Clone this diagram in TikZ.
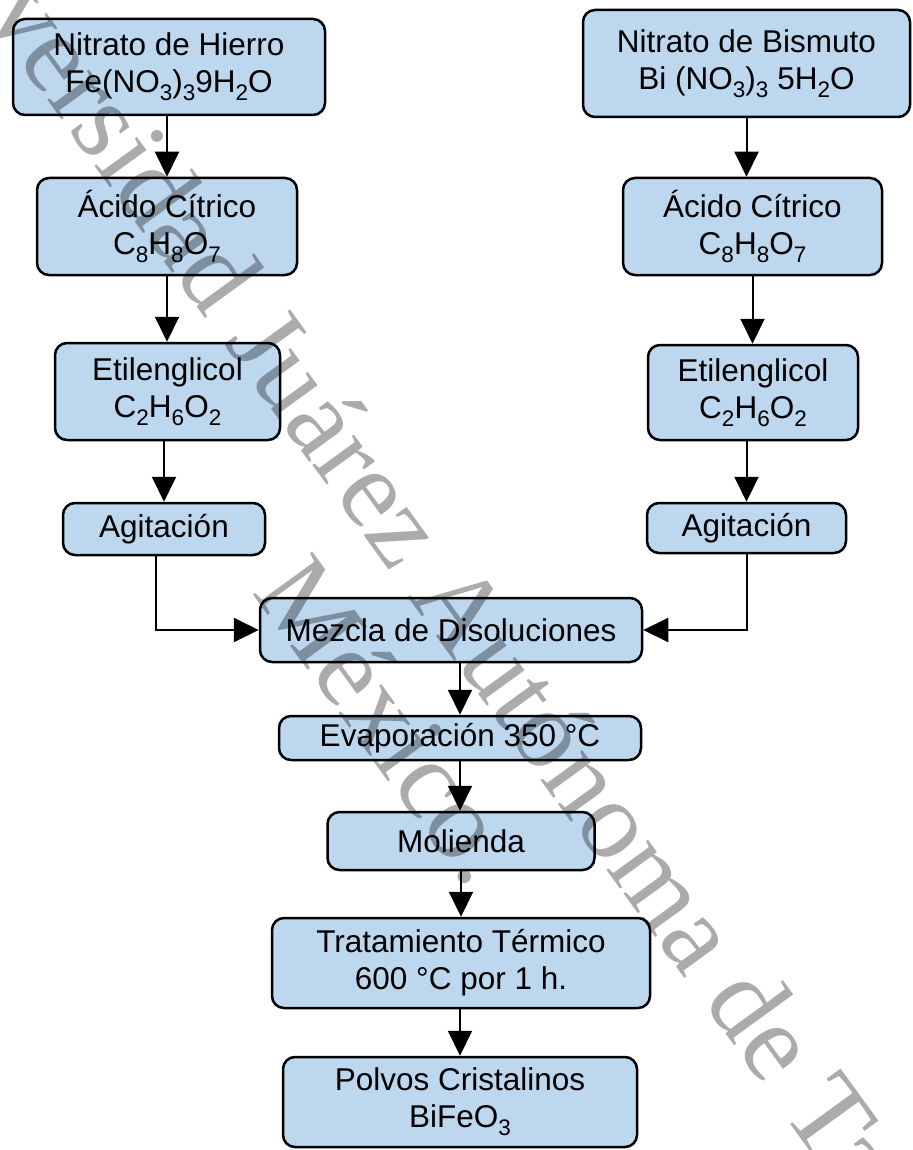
\documentclass[tikz,border=0pt]{standalone}
\usepackage{fontspec}
\setmainfont{Liberation Sans}
\newfontfamily\wmfont{Liberation Serif}
\usetikzlibrary{arrows.meta,calc}
\definecolor{boxblue}{RGB}{189,215,238}
\newcommand\chs[1]{\raisebox{-8pt}{\fontsize{22.5}{22.5}\selectfont #1}}
\tikzset{
  procbox/.style={draw=black, line width=2.5pt, fill=boxblue, rounded corners=12pt,
    inner sep=0pt, align=center, font=\fontsize{31.5}{37}\selectfont},
  arr/.style={line width=2pt, -{Triangle[width=24pt,length=25pt]}},
  wm/.style={text=black, text opacity=0.33, font=\wmfont\fontsize{112}{112}\selectfont,
    rotate=-54, inner sep=0pt, anchor=base west}
}
\begin{document}
\begin{tikzpicture}[x=1pt,y=-1pt]
\useasboundingbox (0,0) rectangle (912,1150);
\fill[white] (0,0) rectangle (912,1150);
% left column
\node[procbox, minimum width=312pt, minimum height=96pt] (fe) at (169,67) {Nitrato de Hierro\\Fe(NO\chs{3})\chs{3}9H\chs{2}O};
\node[procbox, minimum width=260pt, minimum height=97pt] (ac1) at (167,226.5) {Ácido Cítrico\\C\chs{8}H\chs{8}O\chs{7}};
\node[procbox, minimum width=225pt, minimum height=97pt] (et1) at (167.5,391.5) {Etilenglicol\\C\chs{2}H\chs{6}O\chs{2}};
\node[procbox, minimum width=202pt, minimum height=52pt] (agL) at (164,529) {Agitación};
% right column
\node[procbox, minimum width=327pt, minimum height=107pt] (bi) at (746.5,63.5) {Nitrato de Bismuto\\Bi (NO\chs{3})\chs{3} 5H\chs{2}O};
\node[procbox, minimum width=259pt, minimum height=97pt] (ac2) at (752.5,226.5) {Ácido Cítrico\\C\chs{8}H\chs{8}O\chs{7}};
\node[procbox, minimum width=210pt, minimum height=95pt] (et2) at (753,392.5) {Etilenglicol\\C\chs{2}H\chs{6}O\chs{2}};
\node[procbox, minimum width=199pt, minimum height=50pt] (agR) at (746.5,528) {Agitación};
% center column
\node[procbox, minimum width=382pt, minimum height=64pt] (mez) at (451,630) {Mezcla de Disoluciones};
\node[procbox, minimum width=362pt, minimum height=44pt] (ev) at (460,738) {Evaporación 350 °C};
\node[procbox, minimum width=267pt, minimum height=58pt] (mo) at (461,841) {Molienda};
\node[procbox, minimum width=378pt, minimum height=90pt] (tr) at (461,963) {Tratamiento Térmico\\600 °C por 1 h.};
\node[procbox, minimum width=354pt, minimum height=90pt] (po) at (460,1102) {Polvos Cristalinos\\BiFeO\chs{3}};
% connectors
\draw[arr] (fe.south -| ac1.north) -- (ac1.north);
\draw[arr] (ac1.south) -- (et1.north -| ac1.south);
\draw[arr] (et1.south -| agL.north) -- (agL.north);
\draw[arr] ([xshift=-8pt]agL.south) |- (mez.west);
\draw[arr] (bi.south) -- (ac2.north -| bi.south);
\draw[arr] (ac2.south) -- (et2.north -| ac2.south);
\draw[arr] (et2.south -| agR.north) -- (agR.north);
\draw[arr] (agR.south) |- (mez.east);
\draw[arr] (mez.south -| ev.north) -- (ev.north);
\draw[arr] (ev.south) -- (mo.north -| ev.south);
\draw[arr] (mo.south -| tr.north) -- (tr.north);
\draw[arr] (tr.south -| po.north) -- (po.north);
% watermark
\begin{scope}
\clip (0,0) rectangle (912,1150);
\node[wm] (wm1) at (-115,-123) {Universidad Juárez Autónoma de Tabasco.};
\node[wm] (wm2) at (251,592) {México.};
\end{scope}
\end{tikzpicture}
\end{document}
